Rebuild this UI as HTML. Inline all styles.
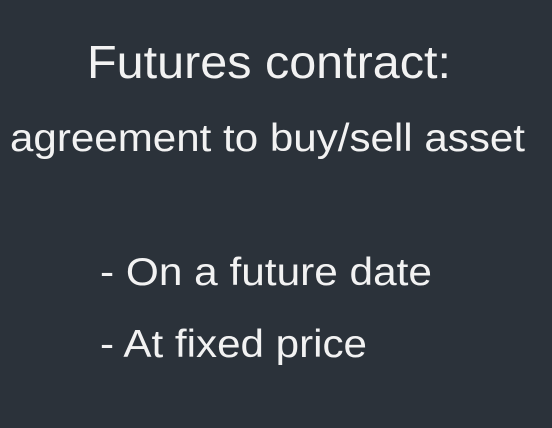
<!DOCTYPE html>
<html><head><meta charset="utf-8"><style>
html,body{margin:0;padding:0;background:#2b323a;}
svg{display:block}
text{font-family:"Liberation Sans",sans-serif;fill:#f2f2f2;}
</style></head><body>
<svg width="552" height="428" viewBox="0 0 552 428">
<rect width="552" height="428" fill="#2b323a"/>
<text x="87" y="78" font-size="46" textLength="364" lengthAdjust="spacingAndGlyphs">Futures contract:</text>
<text x="10" y="151" font-size="39" textLength="515" lengthAdjust="spacingAndGlyphs">agreement to buy/sell asset</text>
<text x="100" y="285" font-size="39" textLength="332" lengthAdjust="spacingAndGlyphs">- On a future date</text>
<text x="100" y="357" font-size="39" textLength="267" lengthAdjust="spacingAndGlyphs">- At fixed price</text>
</svg>
</body></html>
